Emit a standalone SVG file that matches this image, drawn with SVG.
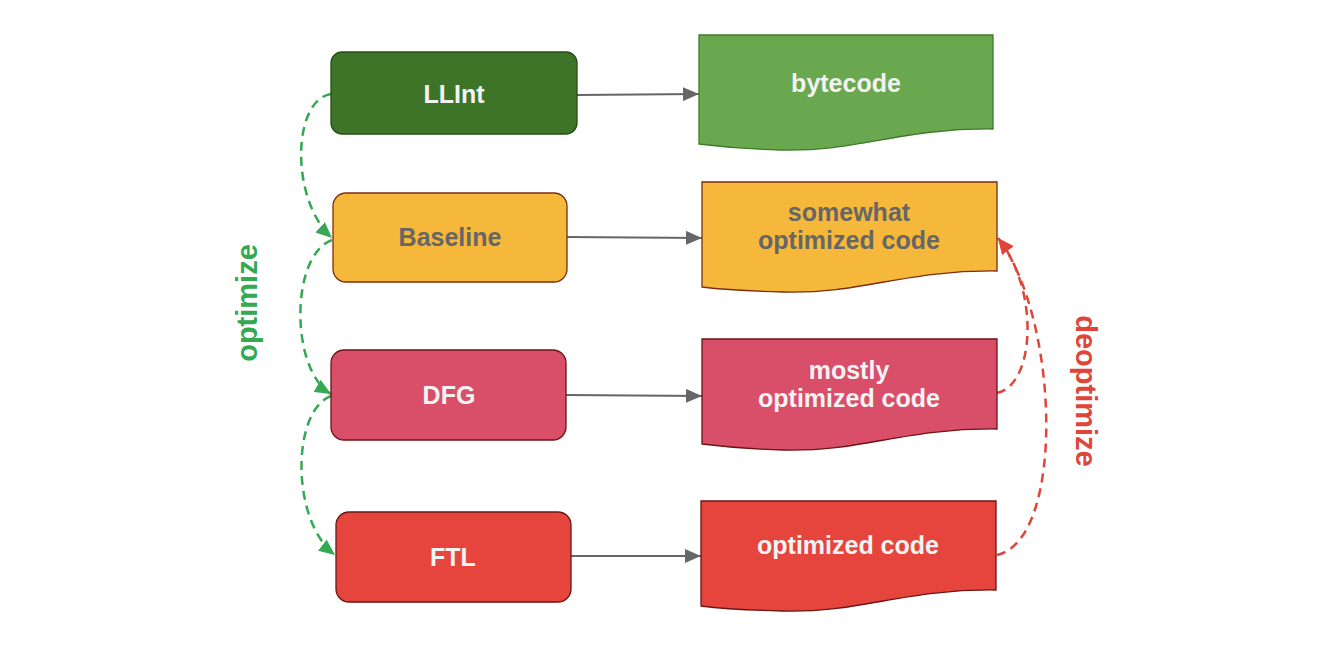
<svg xmlns="http://www.w3.org/2000/svg" width="1336" height="666" viewBox="0 0 1336 666">
<defs>
<marker id="ag" markerUnits="userSpaceOnUse" markerWidth="18" markerHeight="14" refX="16" refY="7" orient="auto"><path d="M0,0 L16,7 L0,14 Z" fill="#666666"/></marker>
<marker id="agr" markerUnits="userSpaceOnUse" markerWidth="18" markerHeight="14" refX="16" refY="7" orient="auto"><path d="M0,0 L16,7 L0,14 Z" fill="#34a853"/></marker>
<marker id="ar" markerUnits="userSpaceOnUse" markerWidth="18" markerHeight="14" refX="16" refY="7" orient="auto"><path d="M0,0 L16,7 L0,14 Z" fill="#e0453a"/></marker>
<style>
text{font-family:"Liberation Sans",Arial,sans-serif;font-weight:700;text-anchor:middle}
.t{font-size:25px}
.w{fill:#f3f3f3}
.g{fill:#666666}
.box{stroke-width:1.3}
.solid{fill:none;stroke:#666666;stroke-width:2.2}
.dg{fill:none;stroke:#34a853;stroke-width:2.5;stroke-dasharray:9,6}
.dr{fill:none;stroke:#e0453a;stroke-width:2.5;stroke-dasharray:9,6}
</style>
</defs>
<rect width="1336" height="666" fill="#ffffff"/>
<g id="connectors">
<path class="solid" d="M577,95 L699,94" marker-end="url(#ag)"/>
<path class="solid" d="M567,237 L702,238" marker-end="url(#ag)"/>
<path class="solid" d="M566,395 L702,396" marker-end="url(#ag)"/>
<path class="solid" d="M571,556 L701,556" marker-end="url(#ag)"/>
<path class="dg" d="M331,94 C292,100 290,200 332,238" marker-end="url(#agr)"/>
<path class="dg" d="M332,240 C290,255 290,370 331,394" marker-end="url(#agr)"/>
<path class="dg" d="M331,396 C292,410 290,520 335,555" marker-end="url(#agr)"/>
<path class="dr" d="M997,393 C1035,385 1040,290 998,238" marker-end="url(#ar)"/>
<path class="dr" d="M997,555 C1065,540 1060,320 998,238" marker-end="url(#ar)"/>
</g>
<g id="llint"><rect class="box" x="331" y="52" width="246" height="82" rx="11" fill="#3d7428" stroke="#274e13"/><text class="t w" x="454" y="103">LLInt</text></g>
<g id="baseline"><rect class="box" x="333" y="193" width="234" height="89" rx="13" fill="#f6b83a" stroke="#7a2e12"/><text class="t g" x="450" y="246">Baseline</text></g>
<g id="dfg"><rect class="box" x="331" y="350" width="235" height="90" rx="13" fill="#d94e69" stroke="#6b1515"/><text class="t w" x="449" y="404">DFG</text></g>
<g id="ftl"><rect class="box" x="336" y="512" width="235" height="90" rx="13" fill="#e5453c" stroke="#6b1515"/><text class="t w" x="453" y="566">FTL</text></g>
<g id="bytecode"><path class="box" d="M699,35 H993 V129 C900,128 860,152 780,150 C740,149 715,146 699,144 Z" fill="#6aa84f" stroke="#3f7a2a"/><text class="t w" x="846" y="92">bytecode</text></g>
<g id="somewhat"><path class="box" d="M702,182 H997 V271 C903,270 863,294 783,292 C743,291 718,289 702,287 Z" fill="#f6b83a" stroke="#7a2e12"/><text class="t g" x="849" y="221">somewhat</text><text class="t g" x="849" y="249">optimized code</text></g>
<g id="mostly"><path class="box" d="M702,339 H997 V429 C903,428 863,452 783,450 C743,449 718,446 702,444 Z" fill="#d94e69" stroke="#6b1515"/><text class="t w" x="849" y="379">mostly</text><text class="t w" x="849" y="407">optimized code</text></g>
<g id="optimized"><path class="box" d="M701,501 H996 V590 C902,589 862,613 782,611 C742,610 717,608 701,606 Z" fill="#e5453c" stroke="#6b1515"/><text class="t w" x="848" y="554">optimized code</text></g>
<g id="optimize-label"><text x="0" y="0" font-size="29" fill="#34a853" transform="translate(257,303) rotate(-90)">optimize</text></g>
<g id="deoptimize-label"><text x="0" y="0" font-size="29" fill="#e0453a" transform="translate(1076,391) rotate(90)">deoptimize</text></g>
</svg>
